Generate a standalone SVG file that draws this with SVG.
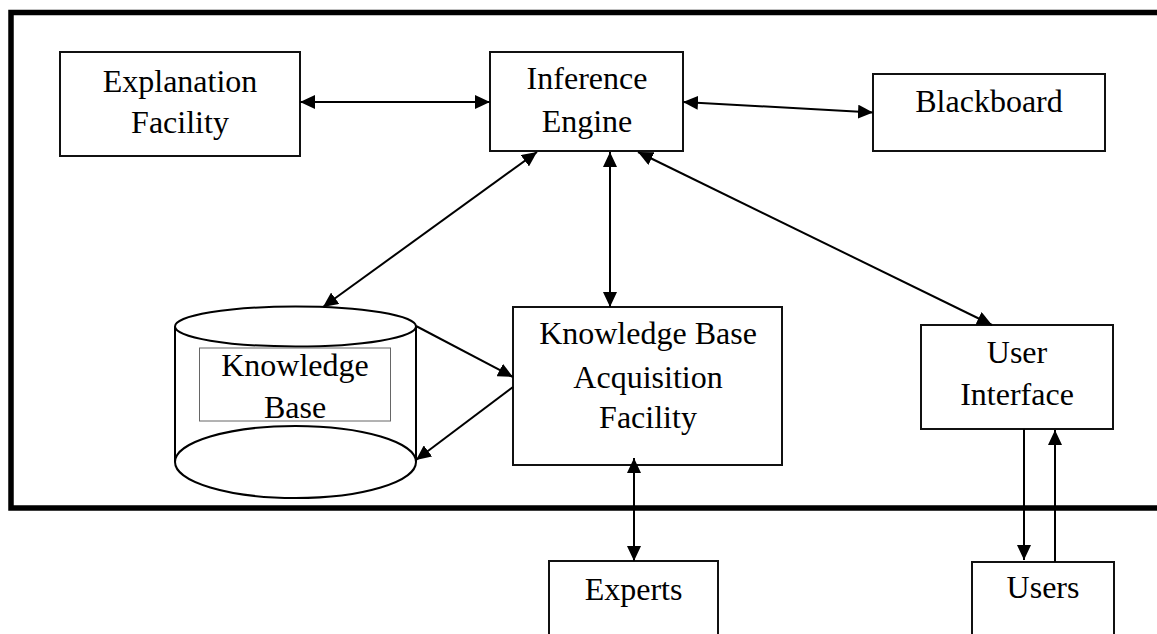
<svg xmlns="http://www.w3.org/2000/svg" width="1157" height="634" viewBox="0 0 1157 634">
  <style>
    .box { fill: #fff; stroke: #111; stroke-width: 2; }
    .lbl { font-family: "Liberation Serif", "Times New Roman", serif; font-size: 32px; fill: #000; text-anchor: middle; }
    .wire { fill: none; stroke: #000; stroke-width: 2; }
    .both { marker-start: url(#head); marker-end: url(#head); }
    .one { marker-end: url(#head); }
  </style>
  <defs>
    <marker id="head" viewBox="0 0 15 14" refX="15" refY="7" markerWidth="15" markerHeight="14" markerUnits="userSpaceOnUse" orient="auto-start-reverse">
      <path d="M0,0 L15,7 L0,14 Z" fill="#000"/>
    </marker>
  </defs>
  <rect width="1157" height="634" fill="#fff"/>

  <!-- system boundary -->
  <path id="frame" d="M1165,12.5 H11 V508 H1165" fill="none" stroke="#000" stroke-width="5.5"/>

  <g id="explanation-facility">
    <rect class="box" x="60" y="52" width="240" height="104"/>
    <text class="lbl" x="180" y="92">Explanation</text>
    <text class="lbl" x="180" y="133">Facility</text>
  </g>

  <g id="inference-engine">
    <rect class="box" x="490" y="52" width="193" height="99"/>
    <text class="lbl" x="587" y="89">Inference</text>
    <text class="lbl" x="587" y="132">Engine</text>
  </g>

  <g id="blackboard">
    <rect class="box" x="873" y="74" width="232" height="77"/>
    <text class="lbl" x="989" y="112">Blackboard</text>
  </g>

  <g id="knowledge-base">
    <line class="wire" x1="175" y1="326.5" x2="175" y2="462"/>
    <line class="wire" x1="416" y1="326.5" x2="416" y2="462"/>
    <ellipse cx="295.5" cy="462" rx="120.5" ry="36" fill="#fff" stroke="#000" stroke-width="2"/>
    <ellipse cx="295.5" cy="326.5" rx="120.5" ry="20" fill="#fff" stroke="#000" stroke-width="2"/>
    <rect x="199.5" y="348" width="191" height="73" fill="none" stroke="#666" stroke-width="1"/>
    <text class="lbl" x="295" y="376">Knowledge</text>
    <text class="lbl" x="295" y="418">Base</text>
  </g>

  <g id="kb-acquisition-facility">
    <rect class="box" x="513" y="307" width="269" height="158"/>
    <text class="lbl" x="648" y="344">Knowledge Base</text>
    <text class="lbl" x="648" y="388">Acquisition</text>
    <text class="lbl" x="648" y="428">Facility</text>
  </g>

  <g id="user-interface">
    <rect class="box" x="921" y="325" width="192" height="104"/>
    <text class="lbl" x="1017" y="363">User</text>
    <text class="lbl" x="1017" y="405">Interface</text>
  </g>

  <g id="experts">
    <rect class="box" x="549" y="561" width="169" height="90"/>
    <text class="lbl" x="633.5" y="600">Experts</text>
  </g>

  <g id="users">
    <rect class="box" x="972" y="562" width="142" height="90"/>
    <text class="lbl" x="1043" y="598">Users</text>
  </g>

  <g id="connectors">
    <line class="wire both" x1="300" y1="102" x2="490" y2="102"/>
    <line class="wire both" x1="683" y1="102" x2="873" y2="112.5"/>
    <line class="wire both" x1="537" y1="152" x2="323" y2="307"/>
    <line class="wire both" x1="610" y1="152" x2="610" y2="307"/>
    <line class="wire both" x1="638" y1="152" x2="992" y2="325"/>
    <line class="wire one" x1="416" y1="326" x2="513" y2="377"/>
    <line class="wire one" x1="513" y1="387" x2="416" y2="460"/>
    <line class="wire both" x1="634" y1="458" x2="634" y2="561"/>
    <line class="wire one" x1="1024" y1="429" x2="1024" y2="560"/>
    <line class="wire one" x1="1055" y1="562" x2="1055" y2="430"/>
  </g>
</svg>
